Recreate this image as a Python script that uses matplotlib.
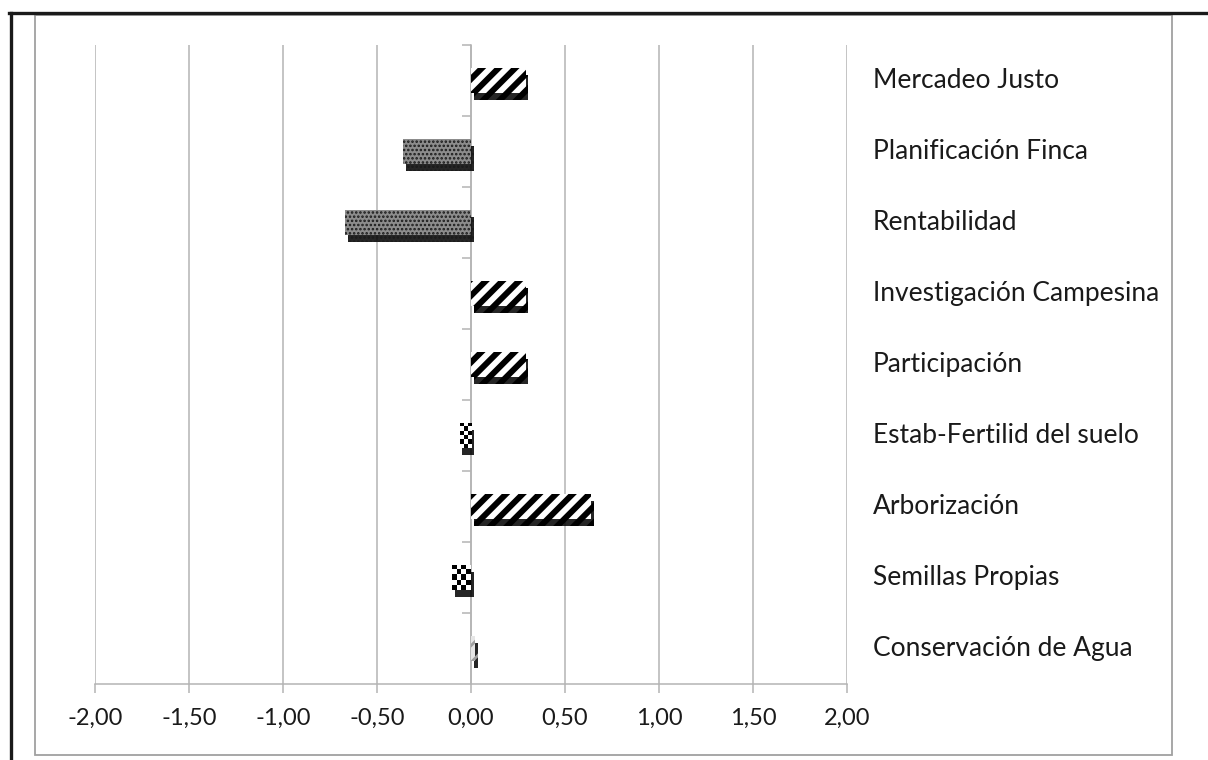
import matplotlib
matplotlib.use("Agg")
import numpy as np
import matplotlib.pyplot as plt
import matplotlib.patheffects as pe
from matplotlib.patches import Rectangle
from matplotlib.lines import Line2D

# ---- data (top to bottom as in the chart) ----
categories = ["Mercadeo Justo", "Planificación Finca", "Rentabilidad",
              "Investigación Campesina", "Participación",
              "Estab-Fertilid del suelo", "Arborización",
              "Semillas Propias", "Conservación de Agua"]
values = [0.29, -0.36, -0.67, 0.29, 0.29, -0.06, 0.64, -0.10, 0.02]
xticks = [-2.0, -1.5, -1.0, -0.5, 0.0, 0.5, 1.0, 1.5, 2.0]
xtick_labels = ["-2,00", "-1,50", "-1,00", "-0,50", "0,00", "0,50", "1,00", "1,50", "2,00"]

# style per bar: (fill, hatch, hatch colour, hatch linewidth, checker cell px or None)
styles = [
    ("white", "//", "black", 4.3, None),
    ("#8c8c8c", "....", "#1a1a1a", 1.2, None),
    ("#8c8c8c", "....", "#1a1a1a", 1.2, None),
    ("white", "//", "black", 4.3, None),
    ("white", "//", "black", 4.3, None),
    ("white", "", "black", 1.0, 4),
    ("white", "//", "black", 4.3, None),
    ("white", "", "black", 1.0, 5),
    ("#e6e6e6", "//", "#a0a0a0", 2.0, None),
]

FONT = "Lato"
GRID = "#b4b4b4"
BAR_H = 0.36

fig = plt.figure(figsize=(12.08, 7.60), dpi=100)
ax = fig.add_axes([95/1208, 1-684/760, (847-95)/1208, (684-45)/760])

n = len(categories)
ypos = list(range(n-1, -1, -1))
ax.set_xlim(-2, 2)
ax.set_ylim(-0.5, n-0.5)

shadow = [pe.SimplePatchShadow(offset=(2, -5), shadow_rgbFace="black", alpha=0.85),
          pe.Normal()]

px_per_x = (847-95)/4.0
px_per_y = (684-45)/n

for y, v, (fc, hatch, hc, hlw, cell) in zip(ypos, values, styles):
    with plt.rc_context({"hatch.linewidth": hlw, "hatch.color": hc}):
        bars = ax.barh(y, v, height=BAR_H, color=fc, edgecolor=hc,
                       linewidth=0, hatch=hatch, zorder=3)
    for b in bars:
        b.set_path_effects(shadow)
        if cell:
            nx = max(2, int(round(abs(v)*px_per_x/cell)))
            ny = max(2, int(round(BAR_H*px_per_y/cell)))
            tex = (np.add.outer(np.arange(ny), np.arange(nx)) % 2).astype(float)
            x0, x1 = min(0, v), max(0, v)
            im = ax.imshow(tex, cmap="gray", extent=(x0, x1, y-BAR_H/2, y+BAR_H/2),
                           interpolation="nearest", aspect="auto", zorder=4)
            im.set_clip_path(b)

ax.set_xlim(-2, 2)
ax.set_ylim(-0.5, n-0.5)
ax.set_xticks(xticks)
ax.set_xticklabels(xtick_labels, fontfamily=FONT, fontsize=17, color="#1a1a1a")
ax.tick_params(axis="x", direction="out", length=6.5, width=1.1, color=GRID, pad=11)

ax.set_yticks([i + 0.5 for i in range(n)])
ax.set_yticklabels([])
ax.tick_params(axis="y", direction="out", length=6.5, width=1.1, color=GRID)

ax.grid(axis="x", color=GRID, linewidth=1.1, zorder=0)
ax.set_axisbelow(True)
for s in ["top", "right"]:
    ax.spines[s].set_visible(False)
ax.spines["left"].set_position(("data", 0))
ax.spines["left"].set_color(GRID)
ax.spines["left"].set_linewidth(1.1)
ax.spines["bottom"].set_color(GRID)
ax.spines["bottom"].set_linewidth(1.1)

lab_x = (873-95)/(847-95)
for y, c in zip(ypos, categories):
    ax.text(lab_x, y, c, transform=ax.get_yaxis_transform(), ha="left", va="center",
            fontfamily=FONT, fontsize=19, color="#1a1a1a")

# frames
fig.add_artist(Rectangle((35/1208, 1-755/760), (1172-35)/1208, (755-15)/760,
                         transform=fig.transFigure, fill=False, edgecolor="#a0a0a0",
                         linewidth=1.3))
fig.add_artist(Line2D([9/1208, 1], [1-13/760, 1-13/760], transform=fig.transFigure,
                      color="#1a1a1a", linewidth=2.4))
fig.add_artist(Line2D([10.5/1208, 10.5/1208], [0, 1-13/760], transform=fig.transFigure,
                      color="#1a1a1a", linewidth=2.4))

fig.savefig("out.png", dpi=100, facecolor="white")
